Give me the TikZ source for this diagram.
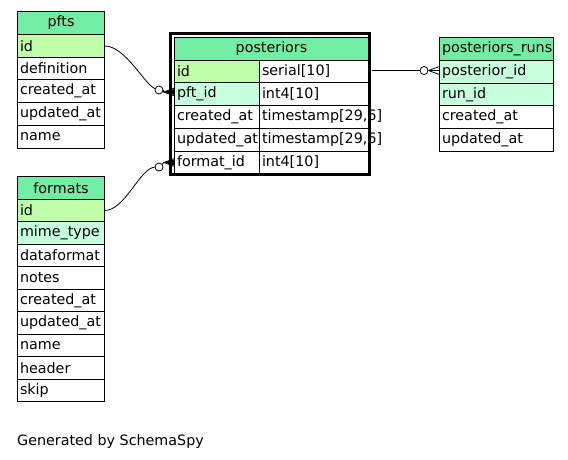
\documentclass[tikz,border=0pt]{standalone}
\usepackage{fontspec}
\setmainfont{DejaVu Sans}
\definecolor{hdrgreen}{RGB}{114,238,164}
\definecolor{pkgreen}{RGB}{191,255,170}
\definecolor{fkgreen}{RGB}{197,255,220}
\newcommand{\erfs}{\fontsize{14.3pt}{16pt}\selectfont}
\tikzset{
  cell/.style={draw, line width=1pt, outer sep=0pt, anchor=north west, inner xsep=2.5pt, inner ysep=0pt,
    align=left, font=\erfs, minimum height=23pt},
  hdr/.style={cell, fill=hdrgreen, align=center},
  pk/.style={cell, fill=pkgreen},
  fk/.style={cell, fill=fkgreen},
  hs/.style={minimum height=22pt},
  wa/.style={minimum width=87pt, text width=82pt},
  wb/.style={minimum width=85pt, text width=80pt},
  wc/.style={minimum width=109pt, text width=104pt},
  wd/.style={minimum width=194pt, text width=189pt},
  we/.style={minimum width=114pt, text width=109pt},
  odot/.style={circle, draw, fill=white, line width=0.8pt, minimum size=8pt, inner sep=0pt},
  conn/.style={line width=0.8pt},
}
\begin{document}
\begin{tikzpicture}[x=1pt,y=-1pt]
\fill[white] (0,0) rectangle (568,460);
\useasboundingbox (0,0) rectangle (568,460);
% pfts
\node[hdr,wa] (pfts-h) at (17.5,11.5) {pfts};
\node[pk,wa] (pfts-id) at (17.5,34.5) {id};
\node[cell,wa,hs] (pfts-def) at (17.5,57.5) {definition};
\node[cell,wa] (pfts-cr) at (17.5,79.5) {created\_at};
\node[cell,wa] (pfts-up) at (17.5,102.5) {updated\_at};
\node[cell,wa] (pfts-nm) at (17.5,125.5) {name};
% formats
\node[hdr,wa] (fm-h) at (17.5,176.5) {formats};
\node[pk,wa,hs] (fm-id) at (17.5,199.5) {id};
\node[fk,wa] (fm-mt) at (17.5,221.5) {mime\_type};
\node[cell,wa,hs] (fm-df) at (17.5,244.5) {dataformat};
\node[cell,wa] (fm-no) at (17.5,266.5) {notes};
\node[cell,wa,hs] (fm-cr) at (17.5,289.5) {created\_at};
\node[cell,wa] (fm-up) at (17.5,311.5) {updated\_at};
\node[cell,wa,hs] (fm-nm) at (17.5,334.5) {name};
\node[cell,wa] (fm-hd) at (17.5,356.5) {header};
\node[cell,wa,hs] (fm-sk) at (17.5,379.5) {skip};
% posteriors
\node[hdr,wd] (po-h) at (174.5,37.5) {posteriors};
\node[pk,wb,hs] (po-id) at (174.5,60.5) {id};
\node[cell,wc,hs] (po-idt) at (259.5,60.5) {serial[10]};
\node[fk,wb] (po-pft) at (174.5,82.5) {pft\_id};
\node[cell,wc] (po-pftt) at (259.5,82.5) {int4[10]};
\node[cell,wb] (po-cr) at (174.5,105.5) {created\_at};
\node[cell,wc] (po-crt) at (259.5,105.5) {timestamp[29,6]};
\node[cell,wb] (po-up) at (174.5,128.5) {updated\_at};
\node[cell,wc] (po-upt) at (259.5,128.5) {timestamp[29,6]};
\node[cell,wb,hs] (po-fm) at (174.5,151.5) {format\_id};
\node[cell,wc,hs] (po-fmt) at (259.5,151.5) {int4[10]};
\draw[line width=3pt] (170.5,33.5) rectangle (369.5,174.5);
% posteriors_runs
\node[hdr,we] (pr-h) at (439.5,37.5) {posteriors\_runs};
\node[fk,we] (pr-pid) at (439.5,60.5) {posterior\_id};
\node[fk,we,hs] (pr-rid) at (439.5,83.5) {run\_id};
\node[cell,we] (pr-cr) at (439.5,105.5) {created\_at};
\node[cell,we] (pr-up) at (439.5,128.5) {updated\_at};
% connector pfts -> posteriors.pft_id
\node[odot] (c1) at (159,90) {};
\coordinate (a1) at ([yshift=2pt]po-pft.west);
\coordinate (p1) at (163.5,92);
\draw[conn] (pfts-id.east) .. controls (125,45.6) and (145,85) .. (c1);
\draw[conn] (c1.east) -- (p1);
\draw[conn] (p1) -- ([yshift=4pt]a1) (p1) -- (a1) (p1) -- ([yshift=-4pt]a1);
\fill (p1) -- ([yshift=3pt]a1) -- ([yshift=-3pt]a1) -- cycle;
% connector formats -> posteriors.format_id
\node[odot] (c2) at (159,167) {};
\coordinate (a2) at (po-fm.west);
\coordinate (p2) at (164,162.5);
\draw[conn] (fm-id.east) .. controls (125,210.5) and (140,168) .. (c2);
\draw[conn] (c2) -- (p2);
\draw[conn] (p2) -- ([yshift=4pt]a2) (p2) -- (a2) (p2) -- ([yshift=-4pt]a2);
\fill (p2) -- ([yshift=3pt]a2) -- ([yshift=-3pt]a2) -- cycle;
% connector posteriors.id -> posteriors_runs.posterior_id
\node[odot] (c3) at (424,70.5) {};
\coordinate (s3) at ([xshift=3pt]c3 -| po-idt.east);
\coordinate (a3) at (c3 -| pr-pid.west);
\draw[conn] (s3) -- (c3);
\draw[conn] (c3.east) -- ([yshift=4pt]a3) (c3.east) -- (a3) (c3.east) -- ([yshift=-4pt]a3);
% footer
\node[anchor=base west, font=\erfs, inner sep=0pt] (gen) at (17,445) {Generated by SchemaSpy};
\end{tikzpicture}
\end{document}
